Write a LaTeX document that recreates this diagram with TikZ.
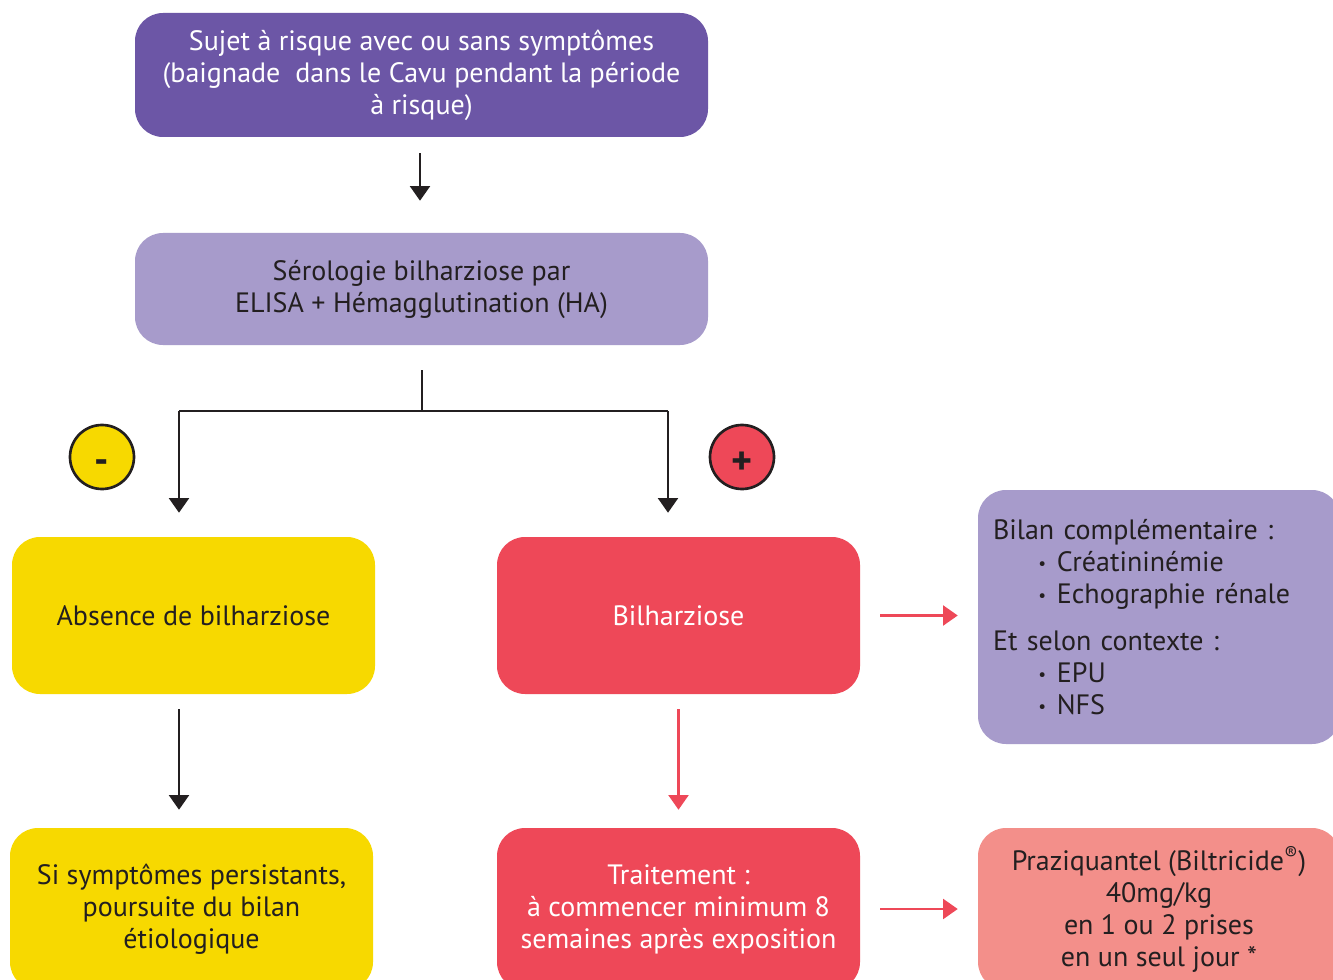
\documentclass[tikz,border=0pt]{standalone}
\usepackage{fontspec}
\setmainfont{PT Sans}
\usetikzlibrary{arrows.meta}
\definecolor{dpurple}{HTML}{6C56A6}
\definecolor{lpurple}{HTML}{A79BCB}
\definecolor{yel}{HTML}{F7D900}
\definecolor{redA}{HTML}{EE4858}
\definecolor{salmon}{HTML}{F38F8A}
\definecolor{txt}{HTML}{231F20}
\newcommand{\blt}{\hspace*{34pt}\raisebox{1.5pt}{\fontsize{13}{13}\selectfont\textbullet}\hspace{8pt}}
\tikzset{
  box/.style={rounded corners=21pt, inner sep=0pt, align=center, text=txt,
    font=\fontsize{21}{24}\selectfont},
  bigbox/.style={box, minimum width=272.25pt, minimum height=117.75pt},
  lowbox/.style={box, minimum width=272.25pt, minimum height=121.5pt},
  arr/.style={line width=1.6pt, draw=txt, -{Triangle[width=15pt,length=11pt]}},
  rarr/.style={line width=1.6pt, draw=redA, -{Triangle[width=15pt,length=11pt]}},
  sign/.style={circle, draw=txt, line width=2pt, minimum size=48pt, inner sep=0pt},
  signtxt/.style={font=\fontsize{30}{30}\selectfont\bfseries, text=txt, inner sep=0pt},
}
\begin{document}
\begin{tikzpicture}[x=0.75pt,y=-0.75pt]
\useasboundingbox (0,0) rectangle (1333,980);
\clip (0,0) rectangle (1333,980);
\fill[white] (0,0) rectangle (1333,980);

\node[box, fill=dpurple, text=white, minimum width=429.75pt, minimum height=93pt] (b1) at (421.5,75)
  {Sujet à risque avec ou sans symptômes\\(baignade\ \ dans le Cavu pendant la période\\à risque)};
\node[box, fill=lpurple, minimum width=429.75pt, minimum height=84pt] (b2) at (421.5,289)
  {Sérologie bilharziose par\\ELISA + Hémagglutination (HA)};

\node[bigbox, fill=yel] (abs) at (193.5,615.5) {Absence de bilharziose};
\node[bigbox, fill=redA, text=white] (bil) at (678.5,615.5) {Bilharziose};

\node[box, fill=lpurple, align=left, minimum width=271.5pt, minimum height=190.5pt,
  text width=249pt, inner xsep=11.25pt] (bilan) at (1159,617)
  {Bilan complémentaire :\\
   \blt Créatininémie\\
   \blt Echographie rénale\\[11pt]
   Et selon contexte :\\
   \blt EPU\\
   \blt NFS};

\node[lowbox, fill=yel] (si) at (191.5,909)
  {Si symptômes persistants,\\poursuite du bilan\\étiologique};
\node[lowbox, fill=redA, text=white] (trt) at (678.5,909)
  {Traitement :\\à commencer minimum 8\\semaines après exposition};
\node[box, fill=salmon, minimum width=271.5pt, minimum height=121.5pt] (praz) at (1159,909)
  {Praziquantel (Biltricide\textsuperscript{®})\\40mg/kg\\en 1 ou 2 prises\\en un seul jour *};

\node[sign, fill=yel, label={[signtxt, yshift=-7pt]center:-}] (minus) at (102,457) {};
\node[sign, fill=redA, label={[signtxt, yshift=-4.5pt]center:+}] (plus) at (742,457) {};

\coordinate (split) at (422,411);
\coordinate (jl) at (179,411);
\coordinate (jr) at (668,411);
\coordinate (ax) at (420,0);

\draw[arr, shorten <=12pt, shorten >=24pt] (b1.south -| ax) -- (b2.north -| ax);
\draw[line width=1.6pt, draw=txt, shorten <=18.75pt] (b2.south -| split) -- (split);
\draw[line width=1.6pt, draw=txt] (jl) -- (jr);
\draw[arr, shorten >=18pt] (jl) -- (jl |- abs.north);
\draw[arr, shorten >=18pt] (jr) -- (jr |- bil.north);
\draw[arr, shorten <=11.25pt, shorten >=13.5pt] (abs.south -| jl) -- (si.north -| jl);
\draw[rarr, shorten <=11.25pt, shorten >=13.5pt] (bil.south) -- (trt.north);
\draw[rarr, shorten <=15pt, shorten >=15pt] (bil.east) -- (bil.east -| bilan.west);
\draw[rarr, shorten <=15pt, shorten >=15pt] (trt.east) -- (trt.east -| praz.west);
\end{tikzpicture}
\end{document}
